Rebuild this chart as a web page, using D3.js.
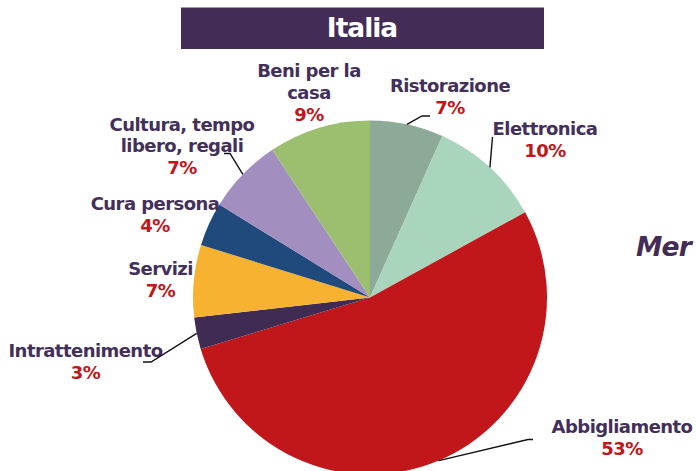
<!DOCTYPE html>
<html><head><meta charset="utf-8">
<script src="https://cdn.jsdelivr.net/npm/d3@7"></script>
<style>
html,body{margin:0;padding:0;background:#fff;}
svg{display:block;}
text{font-family:"DejaVu Sans",Verdana,sans-serif;font-weight:bold;}
</style></head>
<body>
<svg id="chart" width="696" height="471"></svg>
<script>
// ---- data ----
const title = "Italia";
const sideTitle = "Mer";
const categories = ["Ristorazione","Elettronica","Abbigliamento","Intrattenimento","Servizi","Cura persona","Cultura, tempo libero, regali","Beni per la casa"];
const values = [6.7, 10.3, 53.3, 2.9, 6.6, 4.0, 6.9, 9.3];
const pctLabels = ["7%","10%","53%","3%","7%","4%","7%","9%"];
const labelLines = [["Ristorazione"],["Elettronica"],["Abbigliamento"],["Intrattenimento"],["Servizi"],["Cura persona"],["Cultura, tempo","libero, regali"],["Beni per la","casa"]];
const colors = ["#8caa97","#a8d5bb","#c1161a","#402b53","#f8b232","#1f4a7b","#a28fc0","#9bbf6f"];

// ---- layout ----
const svg = d3.select("#chart");
const cx = 370, cy = 297.5, R = 177;
const labelColor = "#42305a", pctColor = "#c1161a";
const fs = 18, lineH = 21.8, ls = -0.55;

// title box
svg.append("rect").attr("x",181).attr("y",7.5).attr("width",363).attr("height",41.5).attr("fill","#432c56");
svg.append("text").attr("x",362).attr("y",37).attr("text-anchor","middle")
  .attr("fill","#fff").attr("font-size",26.5).attr("letter-spacing",-1).text(title);

svg.append("text").attr("x",636).attr("y",256).attr("fill","#432c56")
  .attr("font-size",26.5).attr("letter-spacing",-0.8).attr("font-style","italic").text(sideTitle);

const pie = d3.pie().sort(null).value(d=>d)(values);
const arc = d3.arc().innerRadius(0).outerRadius(R);
const edge = d3.arc().innerRadius(R).outerRadius(R);

const g = svg.append("g").attr("transform",`translate(${cx},${cy})`);
g.selectAll("path.slice").data(pie).join("path").attr("class","slice")
  .attr("d",arc).attr("fill",(d,i)=>colors[i]);

// label placement (center x, first baseline y) and leader elbows
const place = [
  {x:450, y:92,  leader:[[422,116],[430,116]]},
  {x:545, y:135, leader:[[492.5,137]]},
  {x:622, y:433, leader:[[528,439.5],[533,439.5]]},
  {x:85.5,  y:357, leader:[[151,362],[143,362]]},
  {x:160.5, y:275, leader:null},
  {x:155, y:210, leader:null},
  {x:182, y:130.5, leader:[[230,153.5],[224,153.5]]},
  {x:309, y:77,  leader:null}
];

pie.forEach((d,i)=>{
  const p = place[i];
  const lines = labelLines[i];
  const t = svg.append("text").attr("text-anchor","middle").attr("font-size",fs).attr("letter-spacing",ls);
  lines.forEach((ln,k)=>{
    t.append("tspan").attr("x",p.x).attr("y",p.y + k*lineH).attr("fill",labelColor).text(ln);
  });
  t.append("tspan").attr("x",p.x).attr("y",p.y + lines.length*lineH).attr("fill",pctColor).text(pctLabels[i]);
  if (p.leader){
    const c = edge.centroid(d);
    const pts = [[cx+c[0], cy+c[1]], ...p.leader];
    svg.append("path").attr("d", d3.line()(pts)).attr("fill","none")
      .attr("stroke","#111").attr("stroke-width",1.4);
  }
});
</script>
</body></html>
